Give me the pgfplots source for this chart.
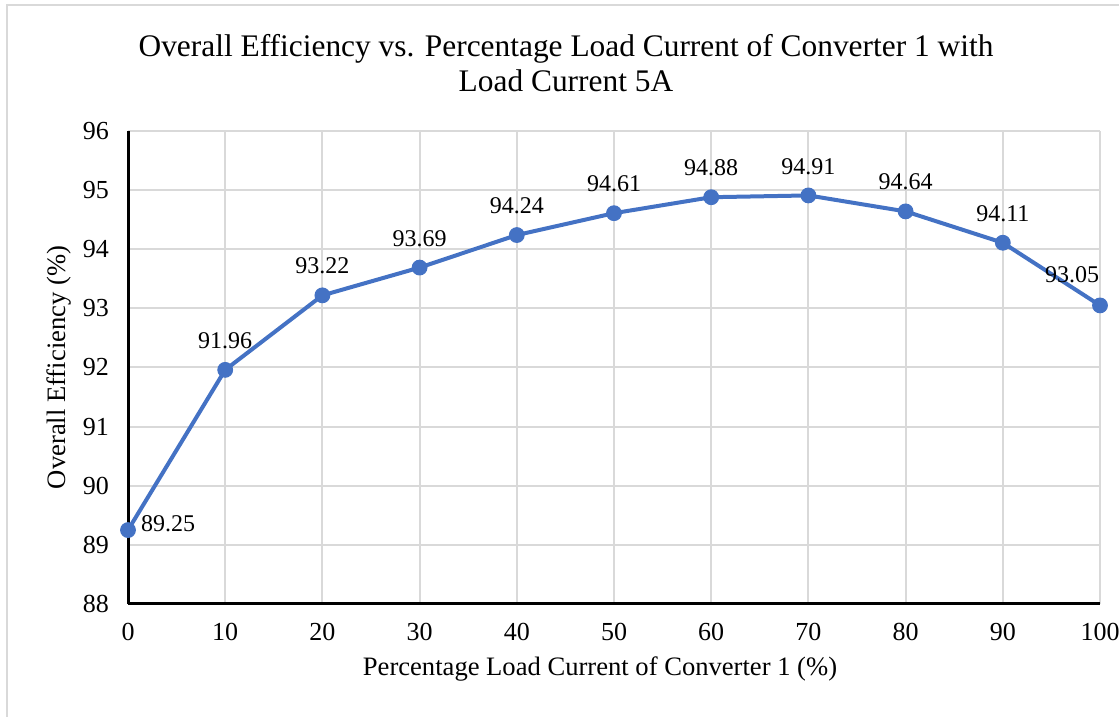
\documentclass[border=0pt]{standalone}
\usepackage{pgfplots}
\pgfplotsset{compat=1.18}
\usepackage{fontspec}
\setmainfont{Liberation Serif}
\definecolor{line1}{HTML}{4472C4}
\definecolor{gridc}{HTML}{D9D9D9}
\newcommand{\lab}{\pgfmathprintnumber[fixed,precision=2,fixed zerofill,assume math mode=true]{\pgfplotspointmeta}}
\begin{document}
\begin{tikzpicture}
\useasboundingbox (0,0) rectangle (559.5pt,358.5pt);
\draw[gridc, line width=0.8pt] (3.5pt,356pt) rectangle (600pt,-20pt);
\begin{axis}[
  at={(64pt,56.5pt)}, anchor=south west,
  scale only axis, width=486pt, height=236.5pt,
  xmin=0, xmax=100, ymin=88, ymax=96,
  xtick={0,10,...,100}, ytick={88,89,...,96},
  axis x line*=bottom, axis y line*=left,
  axis line style={black, line width=1.5pt, -},
  grid=major, major grid style={gridc, line width=1pt},
  major tick length=0pt,
  xticklabel={\pgfmathprintnumber[assume math mode=true]{\tick}},
  yticklabel={\pgfmathprintnumber[assume math mode=true]{\tick}},
  ticklabel style={font=\rmfamily\fontsize{13}{15}\selectfont},
  xticklabel style={yshift=-6pt},
  yticklabel style={xshift=-6pt},
  xlabel={Percentage Load Current of Converter 1 (\%)},
  ylabel={Overall Efficiency (\%)},
  label style={font=\fontsize{13.3}{15}\selectfont},
  xlabel style={yshift=-1pt, xshift=-7pt},
  ylabel style={yshift=-1pt},
  title={Overall Efficiency vs. Percentage Load Current of Converter 1 with\\Load Current 5A},
  title style={font=\fontsize{15.7}{17.5}\selectfont, align=center, yshift=10pt, xshift=-24pt},
  clip=false,
  nodes near coords style={font=\rmfamily\fontsize{12}{14}\selectfont, black},
]
\addplot[line1, line width=2pt, mark=*, mark size=3.7pt, mark options={fill=line1, draw=line1, line width=0.5pt}]
  coordinates {(0,89.25) (10,91.96) (20,93.22) (30,93.69) (40,94.24) (50,94.61) (60,94.88) (70,94.91) (80,94.64) (90,94.11) (100,93.05)};
\addplot[draw=none, mark=none, nodes near coords={\lab}, nodes near coords align={above}, every node near coord/.append style={yshift=7pt}]
  coordinates {(10,91.96) (20,93.22) (30,93.69) (40,94.24) (50,94.61) (60,94.88) (70,94.91) (80,94.64) (90,94.11)};
\addplot[draw=none, mark=none, nodes near coords={\lab}, every node near coord/.append style={anchor=west, xshift=3pt, yshift=3pt}]
  coordinates {(0,89.25)};
\addplot[draw=none, mark=none, nodes near coords={\lab}, nodes near coords align={above}, every node near coord/.append style={yshift=8pt, xshift=-14pt}]
  coordinates {(100,93.05)};
\end{axis}
\end{tikzpicture}
\end{document}
